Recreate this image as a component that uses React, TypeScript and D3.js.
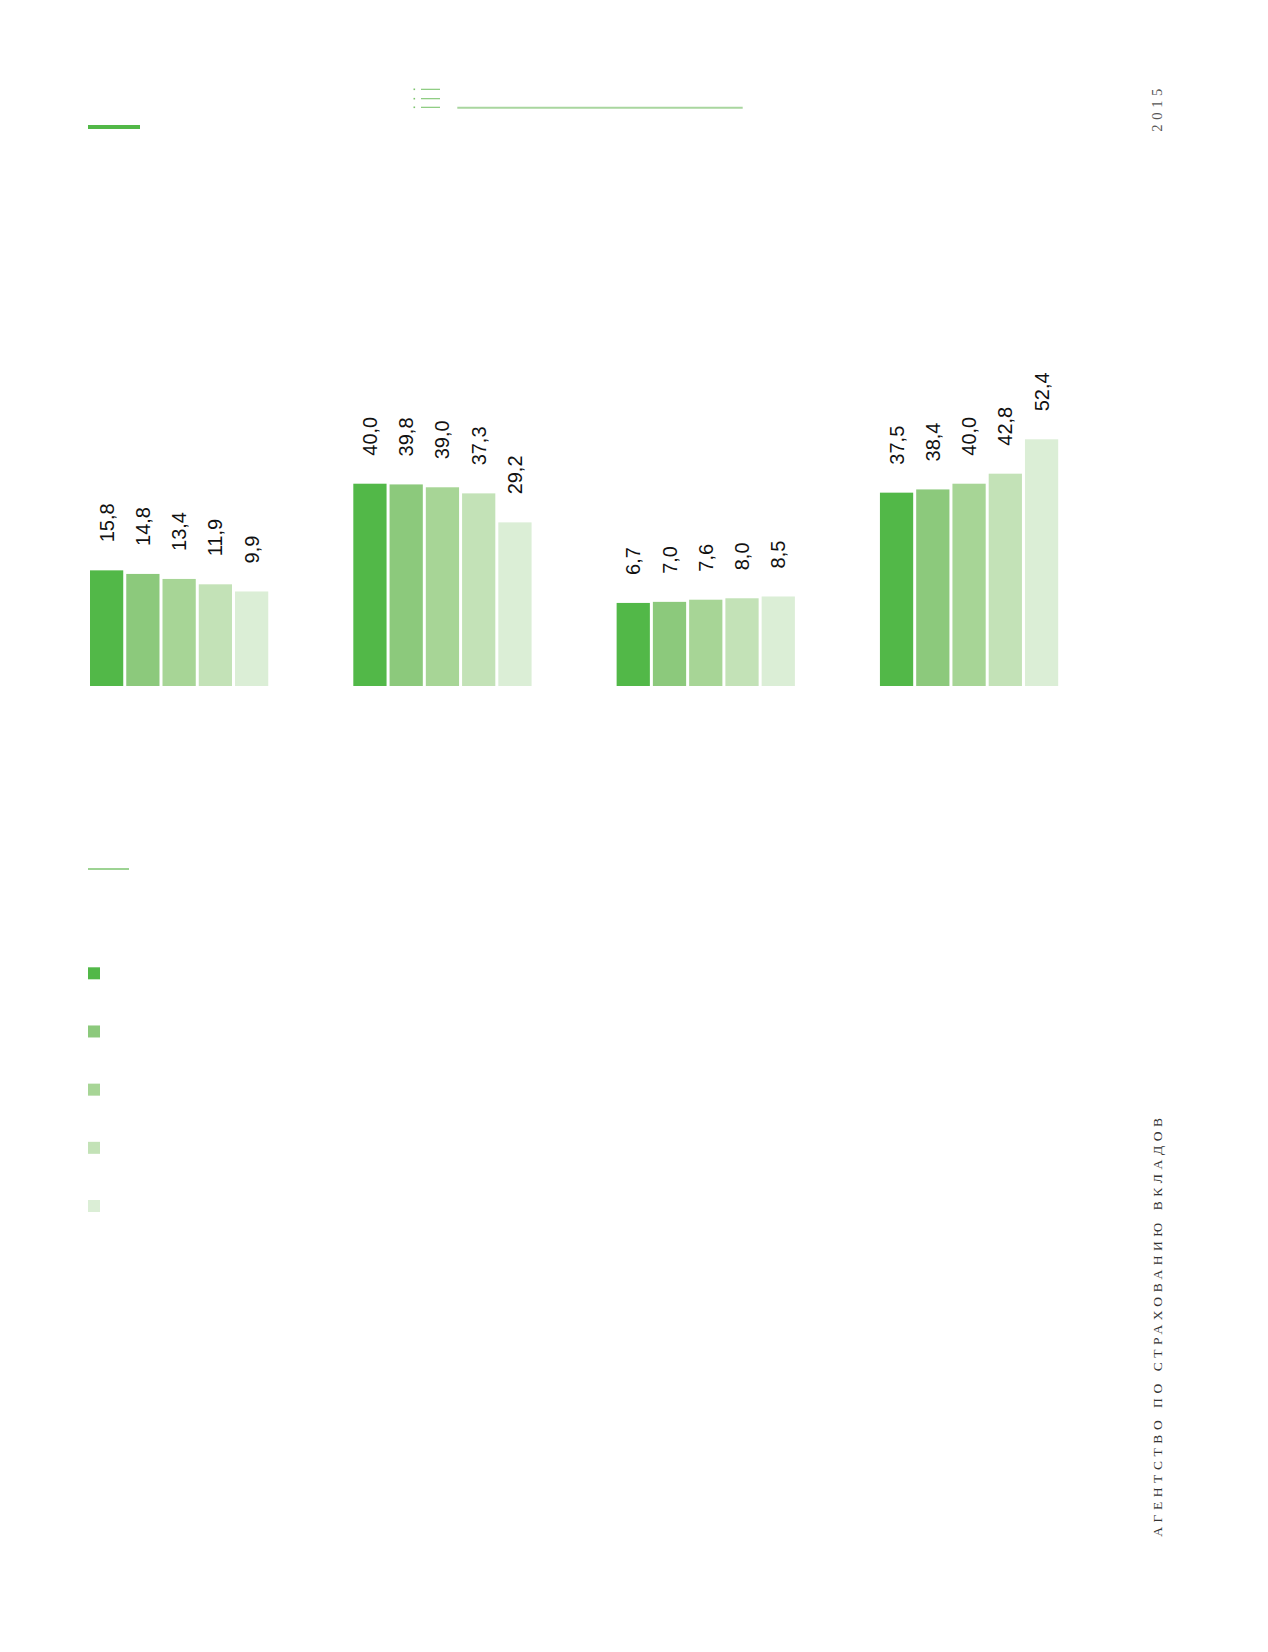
import { useEffect, useRef } from "react";
import * as d3 from "d3";

// categories (labels are not printed on the page) and the five series
const groups = ["g1", "g2", "g3", "g4"];
const seriesKeys = ["s1", "s2", "s3", "s4", "s5"];
const seriesColors = ["#52b848", "#8cc97c", "#a7d596", "#c3e2b7", "#dbeed6"];

const series1 = [15.8, 40.0, 6.7, 37.5];
const series2 = [14.8, 39.8, 7.0, 38.4];
const series3 = [13.4, 39.0, 7.6, 40.0];
const series4 = [11.9, 37.3, 8.0, 42.8];
const series5 = [9.9, 29.2, 8.5, 52.4];
const seriesValues = [series1, series2, series3, series4, series5];

const yearLabel = "2015";
const footerLabel = "АГЕНТСТВО ПО СТРАХОВАНИЮ ВКЛАДОВ";

export default function App() {
  const width = 1268;
  const height = 1652;
  const baseline = 686;

  const chart = useRef(null);

  const x0 = d3.scaleBand()
    .domain(groups)
    .range([90, 1058.2])
    .paddingInner(0.323);

  const x1 = d3.scaleBand()
    .domain(seriesKeys)
    .range([0, x0.bandwidth()])
    .paddingInner(0.083);

  // the original axis starts below zero, bars keep an offset
  const y = d3.scaleLinear()
    .domain([-16.5, 55])
    .range([baseline, baseline - 256]);

  const legendY = d3.scalePoint()
    .domain(seriesKeys)
    .range([967.3, 1200]);

  const locale = d3.formatLocale({ decimal: ",", thousands: " ", grouping: [3], currency: ["", ""] });
  const fmt = locale.format(".1f");

  useEffect(() => {
    const svg = d3.select(chart.current);
    svg.selectAll("*").remove();

    const rows = groups.flatMap((g, gi) =>
      seriesKeys.map((s, si) => ({ g, s, si, v: seriesValues[si][gi] }))
    );

    const bars = svg.append("g");
    bars.selectAll("rect")
      .data(rows)
      .join("rect")
      .attr("x", d => x0(d.g) + x1(d.s))
      .attr("y", d => y(d.v))
      .attr("width", x1.bandwidth())
      .attr("height", d => baseline - y(d.v))
      .attr("fill", d => seriesColors[d.si]);

    svg.append("g")
      .attr("font-family", "'Liberation Sans', Arial, sans-serif")
      .attr("font-size", 20)
      .attr("fill", "#111")
      .selectAll("text")
      .data(rows)
      .join("text")
      .attr("transform", d => `translate(${x0(d.g) + x1(d.s) + x1.bandwidth() / 2},${y(d.v) - 28}) rotate(-90)`)
      .attr("dy", "0.35em")
      .text(d => fmt(d.v));

    // legend squares
    svg.append("g")
      .selectAll("rect")
      .data(seriesKeys)
      .join("rect")
      .attr("x", 88)
      .attr("y", d => legendY(d))
      .attr("width", 12)
      .attr("height", 12)
      .attr("fill", (d, i) => seriesColors[i]);
  }, []);

  const iconRows = [89.3, 98.7, 107.3];

  return (
    <div style={{ position: "absolute", left: 0, top: 0 }}>
      <svg width={width} height={height} style={{ display: "block", background: "#fff" }}>
        {/* page decoration */}
        <line x1={88} x2={140} y1={127} y2={127} stroke="#52b848" strokeWidth={4} />
        {iconRows.map(r => (
          <g key={r}>
            <rect x={413.5} y={r - 0.8} width={1.6} height={1.6} fill="#7cc46e" />
            <line x1={421} x2={440} y1={r} y2={r} stroke="#7cc46e" strokeWidth={1.1} />
          </g>
        ))}
        <line x1={457.3} x2={742.7} y1={107.7} y2={107.7} stroke="#a9d69f" strokeWidth={2} />
        <line x1={88} x2={129} y1={869} y2={869} stroke="#7dc56f" strokeWidth={1.5} />
        <text
          transform="translate(1162,131.7) rotate(-90)"
          fontFamily="'Liberation Serif', 'Times New Roman', serif"
          fontSize={14.5}
          textLength={43}
          lengthAdjust="spacing"
          fill="#555"
        >{yearLabel}</text>
        <text
          transform="translate(1162,1536.7) rotate(-90)"
          fontFamily="'Liberation Serif', 'Times New Roman', serif"
          fontSize={13.5}
          textLength={418.7}
          lengthAdjust="spacing"
          fill="#333"
        >{footerLabel}</text>
        <g ref={chart} />
      </svg>
    </div>
  );
}
